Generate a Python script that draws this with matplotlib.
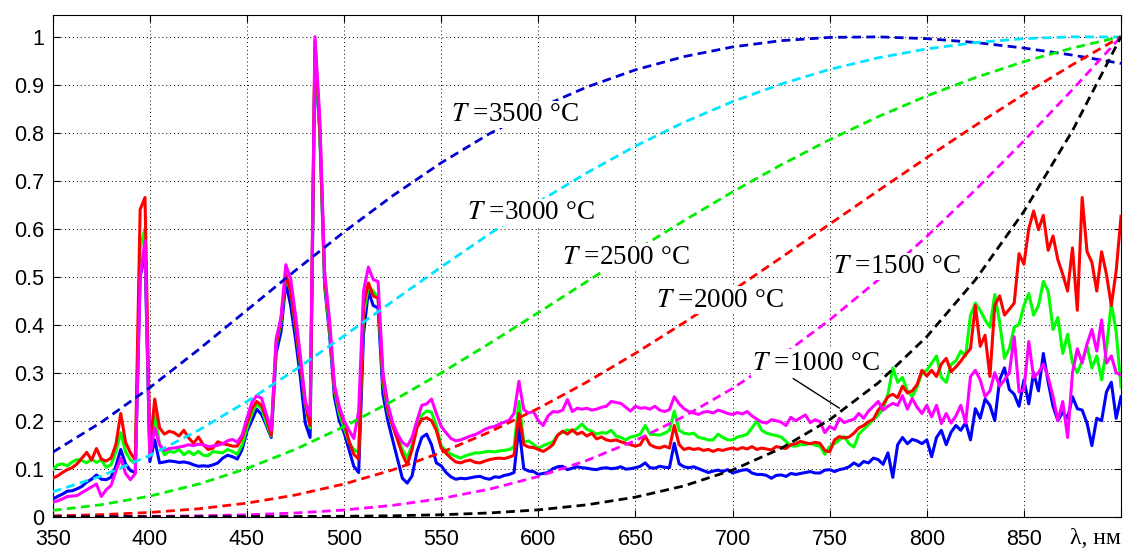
import numpy as np
import matplotlib.pyplot as plt

plt.rcParams['font.family'] = 'Liberation Sans'
plt.rcParams['mathtext.fontset'] = 'stix'

# measured spectra, 2.5 nm step from 350 to 900 nm
wl = np.arange(350, 900.1, 2.5)

blue = [0.037, 0.042, 0.047, 0.053, 0.054, 0.058, 0.063, 0.072, 0.078, 0.087,
        0.078, 0.077, 0.082, 0.105, 0.140, 0.110, 0.096, 0.092, 0.500, 0.550,
        0.115, 0.160, 0.112, 0.114, 0.116, 0.115, 0.113, 0.114, 0.112, 0.108,
        0.105, 0.106, 0.105, 0.108, 0.112, 0.122, 0.128, 0.125, 0.120, 0.140,
        0.178, 0.200, 0.224, 0.213, 0.190, 0.165, 0.340, 0.385, 0.487, 0.440,
        0.370, 0.290, 0.195, 0.165, 0.960, 0.800, 0.480, 0.380, 0.250, 0.200,
        0.175, 0.140, 0.105, 0.092, 0.380, 0.470, 0.440, 0.435, 0.255, 0.200,
        0.160, 0.120, 0.080, 0.070, 0.085, 0.135, 0.165, 0.172, 0.150, 0.112,
        0.106, 0.092, 0.083, 0.078, 0.080, 0.079, 0.081, 0.083, 0.084, 0.080,
        0.078, 0.083, 0.082, 0.086, 0.088, 0.092, 0.188, 0.100, 0.095, 0.094,
        0.088, 0.090, 0.092, 0.100, 0.104, 0.105, 0.098, 0.101, 0.104, 0.102,
        0.101, 0.099, 0.098, 0.101, 0.102, 0.100, 0.101, 0.104, 0.099, 0.100,
        0.102, 0.105, 0.112, 0.102, 0.101, 0.105, 0.103, 0.102, 0.153, 0.110,
        0.104, 0.102, 0.104, 0.100, 0.096, 0.092, 0.095, 0.097, 0.094, 0.098,
        0.091, 0.094, 0.097, 0.098, 0.091, 0.088, 0.088, 0.086, 0.080, 0.086,
        0.087, 0.084, 0.090, 0.088, 0.090, 0.092, 0.094, 0.091, 0.091, 0.097,
        0.098, 0.094, 0.098, 0.100, 0.104, 0.112, 0.106, 0.115, 0.112, 0.122,
        0.119, 0.109, 0.133, 0.082, 0.150, 0.165, 0.152, 0.161, 0.158, 0.152,
        0.160, 0.125, 0.165, 0.180, 0.150, 0.176, 0.190, 0.180, 0.196, 0.160,
        0.225, 0.205, 0.245, 0.232, 0.200, 0.285, 0.310, 0.265, 0.255, 0.230,
        0.285, 0.235, 0.300, 0.262, 0.340, 0.280, 0.230, 0.200, 0.218, 0.205,
        0.250, 0.225, 0.222, 0.195, 0.148, 0.205, 0.200, 0.260, 0.280, 0.205,
        0.250]

green = [0.098, 0.108, 0.110, 0.106, 0.114, 0.119, 0.117, 0.112, 0.120, 0.113,
         0.118, 0.103, 0.108, 0.135, 0.175, 0.135, 0.118, 0.110, 0.560, 0.600,
         0.125, 0.215, 0.150, 0.129, 0.136, 0.134, 0.140, 0.129, 0.136, 0.129,
         0.136, 0.128, 0.127, 0.136, 0.134, 0.133, 0.140, 0.136, 0.130, 0.150,
         0.185, 0.215, 0.235, 0.225, 0.195, 0.168, 0.355, 0.405, 0.500, 0.470,
         0.395, 0.315, 0.235, 0.185, 0.980, 0.800, 0.490, 0.390, 0.265, 0.215,
         0.185, 0.155, 0.140, 0.133, 0.420, 0.480, 0.470, 0.455, 0.280, 0.220,
         0.190, 0.165, 0.140, 0.122, 0.150, 0.195, 0.212, 0.220, 0.218, 0.190,
         0.147, 0.138, 0.130, 0.126, 0.122, 0.127, 0.130, 0.133, 0.133, 0.135,
         0.136, 0.135, 0.137, 0.138, 0.140, 0.145, 0.240, 0.155, 0.158, 0.150,
         0.142, 0.148, 0.152, 0.156, 0.170, 0.176, 0.181, 0.178, 0.184, 0.193,
         0.182, 0.178, 0.172, 0.175, 0.174, 0.180, 0.168, 0.165, 0.160, 0.166,
         0.168, 0.172, 0.190, 0.172, 0.171, 0.170, 0.174, 0.180, 0.220, 0.180,
         0.174, 0.172, 0.174, 0.165, 0.163, 0.160, 0.160, 0.172, 0.165, 0.160,
         0.160, 0.166, 0.168, 0.172, 0.185, 0.199, 0.180, 0.174, 0.171, 0.169,
         0.166, 0.157, 0.148, 0.147, 0.150, 0.150, 0.153, 0.149, 0.147, 0.130,
         0.146, 0.152, 0.160, 0.167, 0.152, 0.145, 0.172, 0.182, 0.192, 0.202,
         0.212, 0.225, 0.255, 0.310, 0.280, 0.290, 0.262, 0.250, 0.270, 0.300,
         0.305, 0.320, 0.335, 0.290, 0.280, 0.317, 0.325, 0.345, 0.335, 0.420,
         0.445, 0.430, 0.410, 0.395, 0.463, 0.405, 0.330, 0.350, 0.395, 0.400,
         0.440, 0.465, 0.420, 0.440, 0.490, 0.470, 0.390, 0.415, 0.340, 0.380,
         0.320, 0.300, 0.325, 0.355, 0.310, 0.335, 0.285, 0.350, 0.445, 0.385,
         0.270]

red = [0.080, 0.085, 0.092, 0.098, 0.102, 0.110, 0.122, 0.134, 0.118, 0.142,
       0.120, 0.116, 0.122, 0.150, 0.215, 0.155, 0.133, 0.118, 0.640, 0.665,
       0.140, 0.245, 0.185, 0.172, 0.178, 0.175, 0.168, 0.180, 0.164, 0.153,
       0.166, 0.150, 0.140, 0.143, 0.156, 0.152, 0.150, 0.147, 0.147, 0.165,
       0.195, 0.225, 0.240, 0.232, 0.205, 0.170, 0.360, 0.410, 0.505, 0.470,
       0.400, 0.320, 0.240, 0.190, 0.990, 0.810, 0.500, 0.400, 0.270, 0.225,
       0.195, 0.158, 0.130, 0.120, 0.440, 0.487, 0.460, 0.455, 0.290, 0.225,
       0.190, 0.160, 0.130, 0.108, 0.140, 0.185, 0.203, 0.206, 0.200, 0.180,
       0.143, 0.132, 0.122, 0.114, 0.112, 0.116, 0.118, 0.113, 0.112, 0.116,
       0.119, 0.121, 0.122, 0.121, 0.124, 0.128, 0.215, 0.150, 0.145, 0.144,
       0.140, 0.136, 0.142, 0.150, 0.170, 0.178, 0.172, 0.181, 0.172, 0.176,
       0.168, 0.174, 0.162, 0.166, 0.160, 0.158, 0.160, 0.156, 0.153, 0.150,
       0.147, 0.150, 0.168, 0.150, 0.145, 0.143, 0.147, 0.143, 0.190, 0.150,
       0.140, 0.143, 0.140, 0.142, 0.138, 0.140, 0.136, 0.140, 0.138, 0.141,
       0.143, 0.140, 0.144, 0.141, 0.146, 0.140, 0.143, 0.141, 0.139, 0.146,
       0.144, 0.142, 0.150, 0.152, 0.157, 0.154, 0.152, 0.155, 0.153, 0.138,
       0.135, 0.160, 0.167, 0.164, 0.166, 0.174, 0.185, 0.190, 0.198, 0.203,
       0.222, 0.234, 0.250, 0.255, 0.248, 0.272, 0.258, 0.262, 0.275, 0.305,
       0.293, 0.305, 0.292, 0.318, 0.330, 0.302, 0.312, 0.324, 0.338, 0.350,
       0.440, 0.355, 0.378, 0.292, 0.440, 0.460, 0.420, 0.432, 0.445, 0.548,
       0.526, 0.600, 0.637, 0.598, 0.628, 0.555, 0.585, 0.535, 0.505, 0.470,
       0.560, 0.430, 0.665, 0.552, 0.530, 0.470, 0.552, 0.505, 0.440, 0.512,
       0.626]

magenta = [0.030, 0.033, 0.037, 0.042, 0.043, 0.044, 0.050, 0.056, 0.062, 0.068,
           0.042, 0.056, 0.065, 0.095, 0.122, 0.090, 0.077, 0.090, 0.500, 0.575,
           0.125, 0.185, 0.150, 0.138, 0.142, 0.143, 0.145, 0.147, 0.150, 0.148,
           0.151, 0.150, 0.146, 0.147, 0.149, 0.152, 0.158, 0.161, 0.155, 0.170,
           0.205, 0.238, 0.252, 0.247, 0.213, 0.180, 0.370, 0.415, 0.525, 0.495,
           0.420, 0.335, 0.240, 0.210, 1.000, 0.830, 0.508, 0.410, 0.275, 0.230,
           0.200, 0.180, 0.163, 0.220, 0.470, 0.520, 0.494, 0.490, 0.300, 0.235,
           0.196, 0.172, 0.155, 0.147, 0.165, 0.200, 0.232, 0.235, 0.245, 0.215,
           0.188, 0.175, 0.163, 0.158, 0.160, 0.164, 0.168, 0.171, 0.176, 0.182,
           0.186, 0.188, 0.193, 0.197, 0.201, 0.215, 0.282, 0.223, 0.216, 0.219,
           0.200, 0.190, 0.210, 0.219, 0.218, 0.222, 0.244, 0.219, 0.226, 0.224,
           0.226, 0.222, 0.224, 0.228, 0.230, 0.240, 0.238, 0.236, 0.228, 0.220,
           0.230, 0.226, 0.227, 0.224, 0.230, 0.222, 0.219, 0.223, 0.250, 0.235,
           0.225, 0.219, 0.216, 0.213, 0.218, 0.219, 0.216, 0.222, 0.219, 0.215,
           0.213, 0.217, 0.214, 0.219, 0.210, 0.203, 0.197, 0.195, 0.202, 0.200,
           0.197, 0.190, 0.207, 0.200, 0.206, 0.212, 0.196, 0.202, 0.198, 0.175,
           0.188, 0.182, 0.205, 0.196, 0.200, 0.203, 0.215, 0.205, 0.220, 0.230,
           0.240, 0.222, 0.230, 0.236, 0.232, 0.252, 0.224, 0.246, 0.228, 0.215,
           0.232, 0.208, 0.232, 0.194, 0.215, 0.195, 0.210, 0.232, 0.195, 0.292,
           0.305, 0.285, 0.250, 0.262, 0.300, 0.272, 0.285, 0.300, 0.375, 0.260,
           0.265, 0.365, 0.290, 0.300, 0.318, 0.290, 0.250, 0.200, 0.240, 0.165,
           0.300, 0.350, 0.320, 0.360, 0.390, 0.345, 0.410, 0.320, 0.335, 0.300,
           0.295]

# normalised black-body curves, 25 nm step
planck_wl = np.arange(350, 901, 25)
t3500 = [0.1343, 0.1967, 0.2689, 0.3479, 0.4304, 0.5132, 0.5933, 0.6686, 0.7373, 0.7983,
         0.8510, 0.8952, 0.9310, 0.9586, 0.9787, 0.9918, 0.9986, 0.9997, 0.9960, 0.9880,
         0.9764, 0.9617, 0.9443]
t3000 = [0.0518, 0.0847, 0.1276, 0.1799, 0.2401, 0.3064, 0.3767, 0.4486, 0.5202, 0.5896,
         0.6556, 0.7165, 0.7722, 0.8217, 0.8648, 0.9014, 0.9319, 0.9561, 0.9746, 0.9878,
         0.9960, 0.9998, 0.9994]
t2500 = [0.0131, 0.0249, 0.0428, 0.0678, 0.1004, 0.1405, 0.1877, 0.2411, 0.2994, 0.3612,
         0.4252, 0.4900, 0.5543, 0.6168, 0.6767, 0.7331, 0.7855, 0.8335, 0.8766, 0.9148,
         0.9481, 0.9765, 1.0]
t2000 = [0.0018, 0.0042, 0.0088, 0.0164, 0.0282, 0.0452, 0.0681, 0.0975, 0.1336, 0.1765,
         0.2256, 0.2805, 0.3404, 0.4042, 0.4710, 0.5398, 0.6096, 0.6793, 0.7481, 0.8153,
         0.8799, 0.9418, 1.0]
t1500 = [0.0001, 0.0003, 0.0007, 0.0018, 0.0039, 0.0077, 0.0139, 0.0236, 0.0378, 0.0575,
         0.0837, 0.1172, 0.1587, 0.2087, 0.2673, 0.3345, 0.4100, 0.4934, 0.5839, 0.6808,
         0.7830, 0.8899, 1.0]
t1000 = [0.0, 0.0, 0.0, 0.0, 0.0001, 0.0003, 0.0008, 0.0019, 0.0040, 0.0078,
         0.0142, 0.0247, 0.0407, 0.0641, 0.0972, 0.1423, 0.2020, 0.2787, 0.3751, 0.4934,
         0.6359, 0.8042, 1.0]

# label text, anchor (nm, value)
labels = ['3500', '3000', '2500', '2000', '1500', '1000']
label_x = [555, 563.4, 612.4, 660.6, 751.6, 710.2]
label_y = [0.838, 0.634, 0.541, 0.451, 0.521, 0.320]

fig = plt.figure(figsize=(11.27, 5.52), dpi=100)
ax = fig.add_axes([0.0468, 0.064, 0.9479, 0.9086])

for vals, c in [(blue, '#0000ff'), (green, '#00ff00'), (red, '#ff0000'), (magenta, '#ff00ff')]:
    ax.plot(wl, vals, color=c, lw=2.2, solid_joinstyle='round', zorder=3)

dash = (0, (3.2, 1.9))
for vals, c in [(t3500, '#0000d0'), (t3000, '#00e5ff'), (t2500, '#00ee00'),
                (t2000, '#ff0000'), (t1500, '#ff00ff'), (t1000, '#000000')]:
    ax.plot(planck_wl, vals, color=c, lw=2.0, ls=dash, zorder=4)

for t, x, y in zip(labels, label_x, label_y):
    ax.text(x, y, r'$T$ =' + t + ' °C', fontsize=19.5, family='Liberation Serif',
            ha='left', va='center', zorder=6,
            bbox=dict(facecolor='white', edgecolor='none', pad=1.0))

ax.annotate('', xy=(756.2, 0.223), xytext=(730.0, 0.291),
            arrowprops=dict(arrowstyle='-', color='k', lw=1.0), zorder=6)

ax.set_xlim(350, 900)
ax.set_ylim(0, 1.045)
ax.set_xticks(np.arange(350, 901, 50))
ax.set_xticklabels([str(v) for v in range(350, 851, 50)] + [''])
ax.set_yticks(np.arange(0, 1.01, 0.1))
ax.set_yticklabels(['0', '0.1', '0.2', '0.3', '0.4', '0.5', '0.6', '0.7', '0.8', '0.9', '1'])
ax.tick_params(direction='in', top=True, right=True, length=5, labelsize=15.5)
ax.tick_params(axis='x', pad=9)
ax.tick_params(axis='y', pad=6)
ax.grid(True, color='k', linestyle=(0, (1, 3)), linewidth=0.7)
ax.set_axisbelow(True)

ax.annotate('λ, нм', xy=(900, 0), xycoords=('data', 'axes fraction'),
            xytext=(0, -8.5), textcoords='offset points', ha='right', va='top',
            fontsize=17, family='Liberation Serif')

fig.savefig('out.png', dpi=100)
